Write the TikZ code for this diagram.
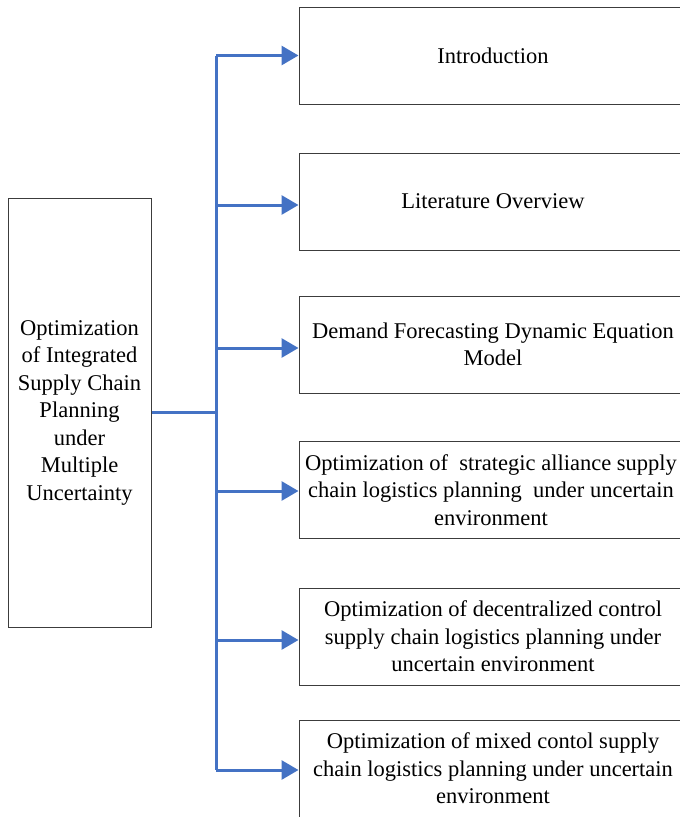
\documentclass[tikz,border=0pt]{standalone}
\usepackage{fontspec}
\setmainfont{Liberation Serif}
\usetikzlibrary{arrows.meta,calc}
\definecolor{conblue}{RGB}{68,114,196}
\definecolor{boxgray}{RGB}{60,60,60}
\begin{document}
\begin{tikzpicture}[x=1pt,y=-1pt,
  rbox/.style={draw=boxgray,line width=1pt,minimum width=388pt,minimum height=97pt,align=center,inner sep=0pt,
    font=\fontsize{22.5}{27.5}\selectfont},
  lbox/.style={draw=boxgray,line width=1pt,minimum width=143pt,minimum height=429pt,align=center,inner sep=0pt,
    font=\fontsize{22.5}{27.5}\selectfont},
  conn/.style={draw=conblue,line width=3pt},
  arr/.style={conn,-{Triangle[length=17pt,width=19pt]}}]
\useasboundingbox (0,0) rectangle (680,817);
\clip (0,0) rectangle (680,817);
\fill[white] (0,0) rectangle (680,817);
\node[lbox] (main) at (79.5,412.5) {Optimization\\of Integrated\\Supply Chain\\Planning\\under\\Multiple\\Uncertainty};
\node[rbox] (b1) at (493,55.5) {Introduction};
\node[rbox] (b2) at (493,201.5) {Literature Overview};
\node[rbox] (b3) at (493,344.5) {Demand Forecasting Dynamic Equation\\Model};
\node[rbox,minimum width=384pt] (b4) at (491,490) {Optimization of\ \ strategic alliance supply\\chain logistics planning\ \ under uncertain\\environment};
\node[rbox] (b5) at (493,636.5) {Optimization of decentralized control\\supply chain logistics planning under\\uncertain environment};
\node[rbox] (b6) at (493,768.5) {Optimization of mixed contol supply\\chain logistics planning under uncertain\\environment};
\coordinate (ttop) at (216,55.5);
\coordinate (tbot) at (216,770);
\coordinate (tmid) at (216,412);
\draw[conn] (ttop) -- (tbot);
\draw[conn] (main.east |- tmid) -- (tmid);
\draw[arr] (ttop) -- (b1.west);
\draw[arr] (216,205) -- (b2.west |- 0,205);
\draw[arr] (216,348) -- (b3.west |- 0,348);
\draw[arr] (216,491) -- (b4.west |- 0,491);
\draw[arr] (216,640) -- (b5.west |- 0,640);
\draw[arr] (tbot) -- (b6.west |- tbot);
\end{tikzpicture}
\end{document}
